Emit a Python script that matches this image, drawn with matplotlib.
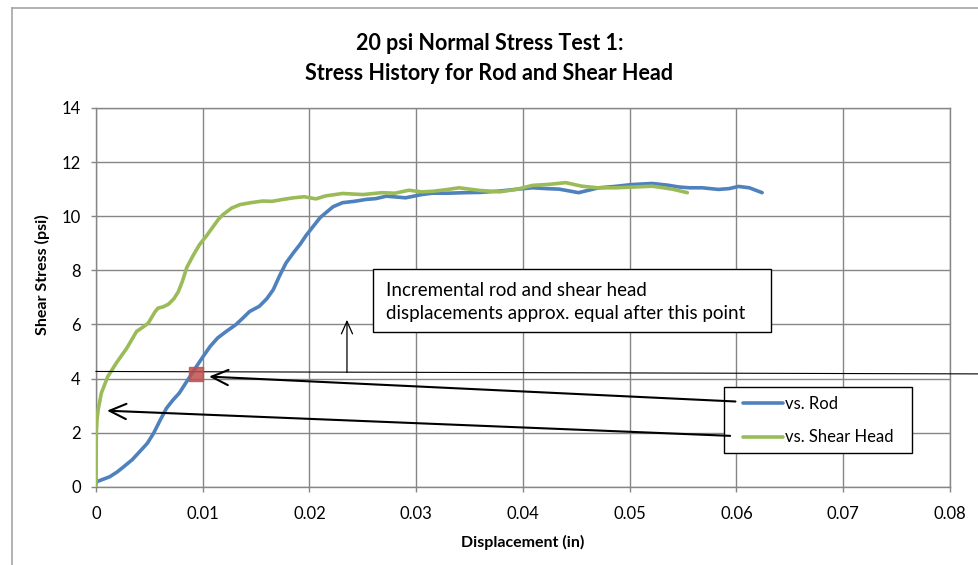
import numpy as np
import matplotlib
matplotlib.use("Agg")
import matplotlib.pyplot as plt
from matplotlib.lines import Line2D
from matplotlib.patches import Rectangle

plt.rcParams["font.family"] = ["Lato", "DejaVu Sans"]

# ── Data ─────────────────────────────────────────────────────────────────────
rod_x = [0, 0.0001, 0.0013, 0.002, 0.0026, 0.0034, 0.0041, 0.0048, 0.0054, 0.006,
         0.0066, 0.0072, 0.0078, 0.0086, 0.0094, 0.0101, 0.0107, 0.0114, 0.0122, 0.0131,
         0.0138, 0.0144, 0.0153, 0.016, 0.0166, 0.0172, 0.0178, 0.0185, 0.0191, 0.0197,
         0.0203, 0.021, 0.0216, 0.0222, 0.0231, 0.0242, 0.0253, 0.0262, 0.0272, 0.029,
         0.0305, 0.0315, 0.033, 0.0346, 0.036, 0.0378, 0.0395, 0.0409, 0.0422, 0.0434,
         0.0452, 0.0471, 0.0486, 0.0502, 0.0521, 0.0535, 0.0546, 0.0556, 0.0568, 0.0583,
         0.0593, 0.0602, 0.0612, 0.0624]
rod_y = [0.1, 0.19, 0.37, 0.55, 0.74, 1.0, 1.3, 1.6, 1.98, 2.45,
         2.9, 3.2, 3.46, 3.95, 4.44, 4.85, 5.19, 5.5, 5.74, 5.99,
         6.25, 6.48, 6.67, 6.95, 7.28, 7.8, 8.27, 8.65, 8.95, 9.3,
         9.6, 9.95, 10.15, 10.35, 10.5, 10.55, 10.62, 10.65, 10.74, 10.68,
         10.8, 10.85, 10.85, 10.87, 10.88, 10.93, 11.0, 11.05, 11.02, 11.0,
         10.87, 11.05, 11.1, 11.17, 11.21, 11.15, 11.08, 11.05, 11.05, 10.99,
         11.02, 11.1, 11.05, 10.87]

head_x = [0, 0.00003, 0.0001, 0.0002, 0.0005, 0.0011, 0.0019, 0.0029, 0.0038, 0.0044,
          0.0049, 0.0055, 0.0058, 0.0063, 0.0068, 0.0073, 0.0077, 0.0081, 0.0085, 0.0091,
          0.0097, 0.0104, 0.011, 0.0115, 0.0119, 0.0127, 0.0135, 0.0145, 0.0156, 0.0165,
          0.0175, 0.0185, 0.0195, 0.0206, 0.0215, 0.0231, 0.025, 0.0268, 0.028, 0.0293,
          0.0305, 0.0315, 0.0328, 0.034, 0.036, 0.0378, 0.0395, 0.0409, 0.0425, 0.044,
          0.0455, 0.047, 0.0487, 0.0505, 0.0521, 0.054, 0.0554]
head_y = [0.06, 1.98, 2.5, 2.84, 3.46, 4.07, 4.57, 5.13, 5.74, 5.9,
          6.05, 6.45, 6.6, 6.65, 6.75, 6.95, 7.2, 7.6, 8.1, 8.55,
          8.95, 9.3, 9.63, 9.9, 10.06, 10.3, 10.43, 10.5, 10.56, 10.55,
          10.62, 10.68, 10.72, 10.64, 10.75, 10.84, 10.8, 10.87, 10.85, 10.96,
          10.9, 10.92, 10.98, 11.05, 10.95, 10.9, 11.0, 11.14, 11.18, 11.24,
          11.11, 11.05, 11.05, 11.08, 11.11, 11.0, 10.87]

# point where incremental displacements become equal
eq_x, eq_y = 0.0094, 4.17
note_text = "Incremental rod and shear head\ndisplacements approx. equal after this point"

# ── Figure ───────────────────────────────────────────────────────────────────
W, H = 979, 565
fig = plt.figure(figsize=(W / 100, H / 100), dpi=100)

def fx(px):
    return px / W

def fy(py):
    return 1 - py / H

ax = fig.add_axes([fx(96), fy(486.7), fx(950) - fx(96), fy(108) - fy(486.7)])

grid_c = "#868686"
ax.set_xlim(0, 0.08)
ax.set_ylim(0, 14)
ax.set_xticks(np.arange(0, 0.081, 0.01))
ax.set_xticklabels(["0", "0.01", "0.02", "0.03", "0.04", "0.05", "0.06", "0.07", "0.08"])
ax.set_yticks(np.arange(0, 15, 2))
ax.grid(True, color=grid_c, lw=1.0)
ax.set_axisbelow(True)
for s in ax.spines.values():
    s.set_color(grid_c)
    s.set_linewidth(1.0)
ax.tick_params(axis="both", length=3.5, width=1.0, labelsize=12,
               color=grid_c, labelcolor="black")
ax.tick_params(axis="y", pad=7.5)
ax.tick_params(axis="x", pad=10.5)

ax.plot(rod_x, rod_y, color="#4F81BD", lw=2.6, label="vs. Rod", zorder=3,
        solid_capstyle="round")
ax.plot(head_x, head_y, color="#9BBB59", lw=2.6, label="vs. Shear Head", zorder=3,
        solid_capstyle="round")

ax.set_xlabel("Displacement (in)", fontsize=11.5, fontweight="bold", labelpad=9.5)
ax.set_ylabel("Shear Stress (psi)", fontsize=11.5, fontweight="bold")
ax.yaxis.set_label_coords(-0.054, 0.559)

fig.text(0.5, fy(43), "20 psi Normal Stress Test 1:", ha="center", va="center",
         fontsize=15.5, fontweight="bold")
fig.text(0.5, fy(73), "Stress History for Rod and Shear Head", ha="center",
         va="center", fontsize=15.5, fontweight="bold")

# horizontal reference line running out past the plot
ax.plot([0, 1.034], [4.26, 4.17], color="black", lw=0.8, clip_on=False,
        transform=ax.get_yaxis_transform(), zorder=4)
ax.plot([eq_x], [eq_y], marker="s", ms=10, color="#C0504D", alpha=0.85,
        mec="#C0504D", zorder=4, clip_on=False)

# text box
ax.add_patch(Rectangle((fx(372.7), fy(331.7)), fx(770.7) - fx(372.7),
                       fy(269.3) - fy(331.7), transform=fig.transFigure,
                       facecolor="white", edgecolor="black", lw=1.0, zorder=5,
                       clip_on=False))
ax.text(fx(386), fy(301.7), note_text, ha="left", va="center", fontsize=13.5,
        linespacing=1.42, zorder=6, transform=fig.transFigure)

# legend: frame drawn at the reference position, entries placed inside it
ax.add_patch(Rectangle((fx(724), fy(453)), fx(912) - fx(724), fy(387) - fy(453),
                       transform=fig.transFigure, facecolor="white",
                       edgecolor="black", lw=1.0, zorder=5, clip_on=False))
leg = ax.legend(loc="upper left", bbox_to_anchor=(fx(743), fy(396)),
                bbox_transform=fig.transFigure, fontsize=12, frameon=False,
                borderpad=0, handlelength=2.4, handletextpad=0.1,
                labelspacing=1.05, borderaxespad=0)
leg.set_zorder(6)

# arrows from legend entries to the curves
arr = dict(arrowstyle="->,head_length=1.2,head_width=0.55", color="black",
           lw=1.5, shrinkA=0, shrinkB=0)
ax.annotate("", xy=(0.01059, 4.07), xytext=(0.0599, 3.15), arrowprops=arr,
            zorder=7, annotation_clip=False)
ax.annotate("", xy=(0.00103, 2.81), xytext=(0.0594, 1.88), arrowprops=arr,
            zorder=7, annotation_clip=False)
ax.annotate("", xy=(0.02351, 6.17), xytext=(0.02351, 4.22),
            arrowprops=dict(arrowstyle="->,head_length=0.9,head_width=0.4",
                            color="black", lw=0.9, shrinkA=0, shrinkB=0), zorder=7)

# outer chart border (left and top visible)
fig.add_artist(Line2D([fx(12), fx(12)], [fy(8), 0], color="#A6A6A6", lw=1.2,
                      transform=fig.transFigure))
fig.add_artist(Line2D([fx(12), 1], [fy(8), fy(8)], color="#A6A6A6", lw=1.2,
                      transform=fig.transFigure))

fig.savefig("out.png", dpi=100)
